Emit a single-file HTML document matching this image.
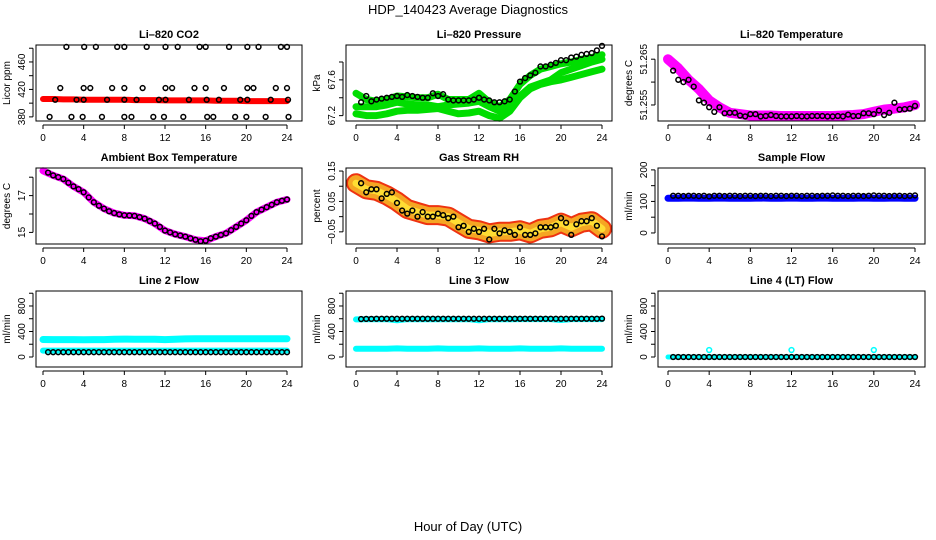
<!DOCTYPE html>
<html><head><meta charset="utf-8"><style>
html,body{margin:0;padding:0;background:#fff}
svg{display:block;font-family:"Liberation Sans",Arial,sans-serif}
</style></head><body>
<svg id="c" width="936" height="540" viewBox="0 0 936 540">
<text x="468" y="14" text-anchor="middle" font-size="13">HDP_140423  Average Diagnostics</text>
<text x="468" y="531" text-anchor="middle" font-size="13">Hour of Day (UTC)</text>
</svg>
<script>
const HOURS=[0,1,2,3,4,5,6,7,8,9,10,11,12,13,14,15,16,17,18,19,20,21,22,23,24];
const HALF=[0.5,1,1.5,2,2.5,3,3.5,4,4.5,5,5.5,6,6.5,7,7.5,8,8.5,9,9.5,10,10.5,11,11.5,12,12.5,13,13.5,14,14.5,15,15.5,16,16.5,17,17.5,18,18.5,19,19.5,20,20.5,21,21.5,22,22.5,23,23.5,24];
const X_TICKS=[0,4,8,12,16,20,24];
// CO2
const co2Band=[406,406,405.5,405.5,405,405,405,405,405,404.5,404.5,404.5,404,404,404,404,404,403.5,403.5,403.5,403,403,403,403,403];
const co2Hours=[2.3,4.05,5.2,7.3,8.0,10.2,12.05,13.25,15.4,16.0,18.3,20.1,21.2,23.4,24.0,1.7,4.0,4.65,6.8,8.0,9.8,12.05,12.7,14.9,16.0,17.8,20.1,20.7,22.9,24.0,1.2,3.3,4.0,6.3,8.0,9.2,11.4,12.05,14.35,16.1,17.3,19.4,20.1,22.4,24.1,0.65,2.8,3.9,5.8,8.0,8.7,10.85,11.9,13.8,16.15,16.75,18.9,20.0,21.9,24.15];
const co2Vals=[482,482,482,482,482,482,482,482,482,482,482,482,482,482,482,422,422,422,422,422,422,422,422,422,422,422,422,422,422,422,405,405,405,405,405,405,405,405,405,405,405,405,405,405,405,380,380,380,380,380,380,380,380,380,380,380,380,380,380,380];
// Pressure
const presUpper=[67.45,67.38,67.36,67.38,67.42,67.41,67.40,67.40,67.44,67.38,67.38,67.38,67.45,67.35,67.30,67.38,67.55,67.65,67.72,67.75,67.78,67.80,67.83,67.85,67.88];
const presMid=[67.30,67.30,67.30,67.32,67.35,67.33,67.32,67.32,67.30,67.32,67.33,67.34,67.36,67.30,67.25,67.30,67.42,67.52,67.56,67.60,67.68,67.72,67.76,67.80,67.83];
const presLow=[67.22,67.20,67.20,67.22,67.25,67.26,67.26,67.27,67.28,67.25,67.22,67.23,67.25,67.20,67.17,67.25,67.40,67.50,67.55,67.58,67.60,67.63,67.66,67.69,67.72];
const presBlack=[67.35,67.42,67.36,67.38,67.39,67.40,67.41,67.42,67.41,67.43,67.42,67.41,67.40,67.40,67.45,67.42,67.44,67.38,67.37,67.37,67.37,67.37,67.38,67.40,67.38,67.37,67.35,67.35,67.36,67.38,67.47,67.58,67.62,67.65,67.68,67.75,67.75,67.77,67.79,67.82,67.82,67.85,67.86,67.88,67.89,67.90,67.93,67.98];
// Li-820 temperature
const tempBand=[51.2650,51.2630,51.2605,51.2585,51.2560,51.2545,51.2533,51.2530,51.2527,51.2527,51.2527,51.2526,51.2526,51.2526,51.2526,51.2526,51.2526,51.2527,51.2528,51.2530,51.2535,51.2540,51.2542,51.2545,51.2550];
const tempBlack=[51.2625,51.2605,51.2600,51.2605,51.2590,51.2560,51.2555,51.2545,51.2535,51.2545,51.2532,51.2533,51.2533,51.2527,51.2525,51.2530,51.2530,51.2525,51.2526,51.2528,51.2526,51.2525,51.2525,51.2525,51.2526,51.2525,51.2525,51.2526,51.2526,51.2526,51.2525,51.2525,51.2526,51.2525,51.2529,51.2526,51.2526,51.2532,51.2532,51.2530,51.2538,51.2528,51.2533,51.2555,51.2540,51.2541,51.2542,51.2548];
// Ambient box temperature
const ambBand=[18.35,18.1,17.9,17.5,17.18,16.64,16.29,16.05,15.93,15.9,15.75,15.48,15.1,14.9,14.77,14.6,14.55,14.77,14.95,15.3,15.66,16.1,16.37,16.64,16.79];
const ambBlack=[18.25,18.1,18.0,17.9,17.7,17.5,17.35,17.18,16.9,16.64,16.45,16.29,16.15,16.05,15.98,15.93,15.92,15.9,15.83,15.75,15.62,15.48,15.3,15.1,15.0,14.9,14.83,14.77,14.68,14.6,14.52,14.55,14.68,14.77,14.86,14.95,15.12,15.3,15.48,15.66,15.9,16.1,16.24,16.37,16.5,16.64,16.72,16.79];
// RH
const rhBand=[0.11,0.09,0.085,0.07,0.05,0.025,0.015,0.005,0.005,0.0,-0.02,-0.04,-0.045,-0.055,-0.05,-0.05,-0.045,-0.055,-0.04,-0.035,-0.02,-0.035,-0.02,-0.015,-0.04];
const rhBlack=[0.11,0.08,0.09,0.09,0.06,0.075,0.08,0.045,0.02,0.01,0.02,0.0,0.015,0.0,0.0,0.01,0.005,-0.005,0.0,-0.035,-0.03,-0.05,-0.04,-0.05,-0.04,-0.075,-0.04,-0.055,-0.045,-0.05,-0.06,-0.035,-0.06,-0.06,-0.055,-0.035,-0.035,-0.035,-0.03,-0.005,-0.02,-0.06,-0.025,-0.015,-0.015,-0.005,-0.03,-0.065];
// Flows
const sampleBand=[110,110,111,110,110,111,110,110,110,111,110,110,111,110,110,111,110,110,110,111,110,110,111,110,110];
const sampleBlack=[118,118,117,118,118,117,118,116,118,118,117,118,118,117,118,118,117,118,118,117,118,118,117,118,118,117,118,118,117,118,118,119,118,118,117,118,118,117,118,119,118,118,117,118,118,117,118,119];
const l2High=[275,272,272,273,270,272,273,278,280,279,279,278,272,279,283,285,287,287,287,287,285,286,286,286,285];
const l2Low=[100,100,100,100,100,100,100,100,100,100,100,100,100,100,100,100,100,100,100,100,100,100,100,100,100];
const l2Black=[75,75,75,75,75,75,75,75,75,75,75,75,75,75,75,75,75,75,75,75,75,75,75,75,75,75,75,75,75,75,75,75,75,75,75,75,75,75,75,75,75,75,75,75,75,75,75,75];
const l3High=[590,592,592,592,575,592,592,592,592,592,592,592,575,592,592,592,595,595,595,595,580,595,595,595,595];
const l3Low=[130,130,130,130,135,130,130,130,135,130,130,130,135,130,130,130,135,130,130,130,135,130,130,130,130];
const l3Black=[595,598,598,600,600,600,600,600,600,600,600,600,600,600,600,600,600,600,600,600,600,600,600,600,600,600,600,600,600,600,600,600,600,600,600,600,600,600,600,600,600,600,600,600,600,600,600,602];
const l4Band=[0,0,0,0,0,0,0,0,0,0,0,0,0,0,0,0,0,0,0,0,0,0,0,0,0];
const l4SpikeHours=[4,12,20];
const l4Spikes=[110,110,110];
const l4Black=[0,0,0,0,0,0,0,0,0,0,0,0,0,0,0,0,0,0,0,0,0,0,0,0,0,0,0,0,0,0,0,0,0,0,0,0,0,0,0,0,0,0,0,0,0,0,0,0];

const svg=document.getElementById('c');
const NS='http://www.w3.org/2000/svg';
function mk(tag,attrs,parent){const e=document.createElementNS(NS,tag);for(const k in attrs)e.setAttribute(k,attrs[k]);(parent||svg).appendChild(e);return e;}
const COLS=[{l:36,r:302,h0:43,h24:287},{l:346,r:612,h0:356,h24:602},{l:658,r:925,h0:668,h24:915}];
const ROWS=[{t:45,b:121},{t:168,b:244},{t:291,b:367}];

function panel(ci,ri,cfg){
  const C=COLS[ci],R=ROWS[ri];
  const g=mk('g',{});
  
  
  const xs=h=>C.h0+(C.h24-C.h0)*h/24;
  const ys=v=>R.t+(cfg.dmax-v)/(cfg.dmax-cfg.dmin)*(R.b-R.t);
  const plot=mk('g',{},g);
  
  
  cfg.draw(plot,xs,ys);
  const box=mk('rect',{x:C.l,y:R.t,width:C.r-C.l,height:R.b-R.t,fill:'none',stroke:'#000','stroke-width':1},g);
  
  
  const t=mk('text',{x:(C.l+C.r)/2,y:R.t-7,'text-anchor':'middle','font-size':11,'font-weight':'bold'},g);
  t.textContent=cfg.title;
  
  
  const xa=mk('g',{},g);
  
  
  const ay=R.b+4;
  mk('line',{x1:xs(0),x2:xs(24),y1:ay,y2:ay,stroke:'#000'},xa);
  X_TICKS.forEach(h=>{
    mk('line',{x1:xs(h),x2:xs(h),y1:ay,y2:ay+4,stroke:'#000'},xa);
    const tl=mk('text',{x:xs(h),y:ay+16,'text-anchor':'middle','font-size':10},xa);
    tl.textContent=h;
    
    
  });
  const ya=mk('g',{},g);
  
  
  const axx=C.l-3;
  mk('line',{x1:axx,x2:axx,y1:ys(cfg.ticks[0]),y2:ys(cfg.ticks[cfg.ticks.length-1]),stroke:'#000'},ya);
  cfg.ticks.forEach(v=>mk('line',{x1:axx-4,x2:axx,y1:ys(v),y2:ys(v),stroke:'#000'},ya));
  cfg.labels.forEach((lab,i)=>{
    const y=ys(cfg.labelVals[i]);
    const tl=mk('text',{x:0,y:0,'text-anchor':'middle','font-size':10,transform:`translate(${axx-8},${y}) rotate(-90)`},ya);
    tl.textContent=lab;
    
    
  });
  const yl=mk('text',{x:0,y:0,'text-anchor':'middle','font-size':10,transform:`translate(${C.l-26},${(R.t+R.b)/2}) rotate(-90)`},g);
  yl.textContent=cfg.ylab;
  
  
}
function band(p,xs,ys,hrs,vals,color,w){
  const pts=hrs.map((h,i)=>xs(h).toFixed(1)+','+ys(vals[i]).toFixed(1)).join(' ');
  const l=mk('polyline',{points:pts,fill:'none',stroke:color,'stroke-width':w,'stroke-linejoin':'round','stroke-linecap':'round'},p);
  
  
}
function circles(p,xs,ys,hrs,vals,color){
  hrs.forEach((h,i)=>{
    const c=mk('circle',{cx:xs(h),cy:ys(vals[i]),r:2.4,fill:'none',stroke:color||'#000','stroke-width':1.5},p);
    
    
  });
}
panel(0,0,{name:'co2-panel',title:'Li\u2013820 CO2',ylab:'Licor ppm',dmin:374,dmax:484.7,ticks:[380,400,420,440,460,480],labels:['380','420','460'],labelVals:[380,420,460],
 draw:(p,xs,ys)=>{band(p,xs,ys,HOURS,co2Band,'#ff0000',6);circles(p,xs,ys,co2Hours,co2Vals);}});
panel(1,0,{name:'pressure-panel',title:'Li\u2013820 Pressure',ylab:'kPa',dmin:67.14,dmax:67.99,ticks:[67.2,67.4,67.6,67.8],labels:['67.2','67.6'],labelVals:[67.2,67.6],
 draw:(p,xs,ys)=>{band(p,xs,ys,HOURS,presUpper,'#00dd00',7);band(p,xs,ys,HOURS,presMid,'#00dd00',7);band(p,xs,ys,HOURS,presLow,'#00dd00',7);circles(p,xs,ys,HALF,presBlack);}});
panel(2,0,{name:'li820-temperature-panel',title:'Li\u2013820 Temperature',ylab:'degrees C',dmin:51.2515,dmax:51.2681,ticks:[51.255,51.26,51.265],labels:['51.255','51.265'],labelVals:[51.255,51.265],
 draw:(p,xs,ys)=>{band(p,xs,ys,HOURS,tempBand,'#ff00ff',10);circles(p,xs,ys,HALF,tempBlack);}});
panel(0,1,{name:'ambient-temperature-panel',title:'Ambient Box Temperature',ylab:'degrees C',dmin:14.37,dmax:18.5,ticks:[15,16,17,18],labels:['15','17'],labelVals:[15,17],
 draw:(p,xs,ys)=>{band(p,xs,ys,HOURS,ambBand,'#ff00ff',7);circles(p,xs,ys,HALF,ambBlack);}});
panel(1,1,{name:'rh-panel',title:'Gas Stream RH',ylab:'percent',dmin:-0.09,dmax:0.16,ticks:[-0.05,0,0.05,0.1,0.15],labels:['\u22120.05','0.05','0.15'],labelVals:[-0.05,0.05,0.15],
 draw:(p,xs,ys)=>{band(p,xs,ys,HOURS,rhBand,'#ee3311',20);band(p,xs,ys,HOURS,rhBand,'#f5a623',16);band(p,xs,ys,HOURS,rhBand,'#ffdd33',7);circles(p,xs,ys,HALF,rhBlack);}});
panel(2,1,{name:'sample-flow-panel',title:'Sample Flow',ylab:'ml/min',dmin:-35,dmax:206,ticks:[0,50,100,150,200],labels:['0','100','200'],labelVals:[0,100,200],
 draw:(p,xs,ys)=>{band(p,xs,ys,HOURS,sampleBand,'#0000ff',7);circles(p,xs,ys,HALF,sampleBlack);}});
panel(0,2,{name:'line2-flow-panel',title:'Line 2 Flow',ylab:'ml/min',dmin:-157,dmax:1035,ticks:[0,200,400,600,800,1000],labels:['0','400','800'],labelVals:[0,400,800],
 draw:(p,xs,ys)=>{band(p,xs,ys,HOURS,l2High,'#00ffff',7);band(p,xs,ys,HOURS,l2Low,'#00ffff',6);circles(p,xs,ys,HALF,l2Black);}});
panel(1,2,{name:'line3-flow-panel',title:'Line 3 Flow',ylab:'ml/min',dmin:-157,dmax:1035,ticks:[0,200,400,600,800,1000],labels:['0','400','800'],labelVals:[0,400,800],
 draw:(p,xs,ys)=>{band(p,xs,ys,HOURS,l3High,'#00ffff',6);band(p,xs,ys,HOURS,l3Low,'#00ffff',6);circles(p,xs,ys,HALF,l3Black);}});
panel(2,2,{name:'line4-flow-panel',title:'Line 4 (LT) Flow',ylab:'ml/min',dmin:-157,dmax:1035,ticks:[0,200,400,600,800,1000],labels:['0','400','800'],labelVals:[0,400,800],
 draw:(p,xs,ys)=>{band(p,xs,ys,HOURS,l4Band,'#00ffff',5);circles(p,xs,ys,l4SpikeHours,l4Spikes,'#00ffff');circles(p,xs,ys,HALF,l4Black);}});
</script>
</body></html>
